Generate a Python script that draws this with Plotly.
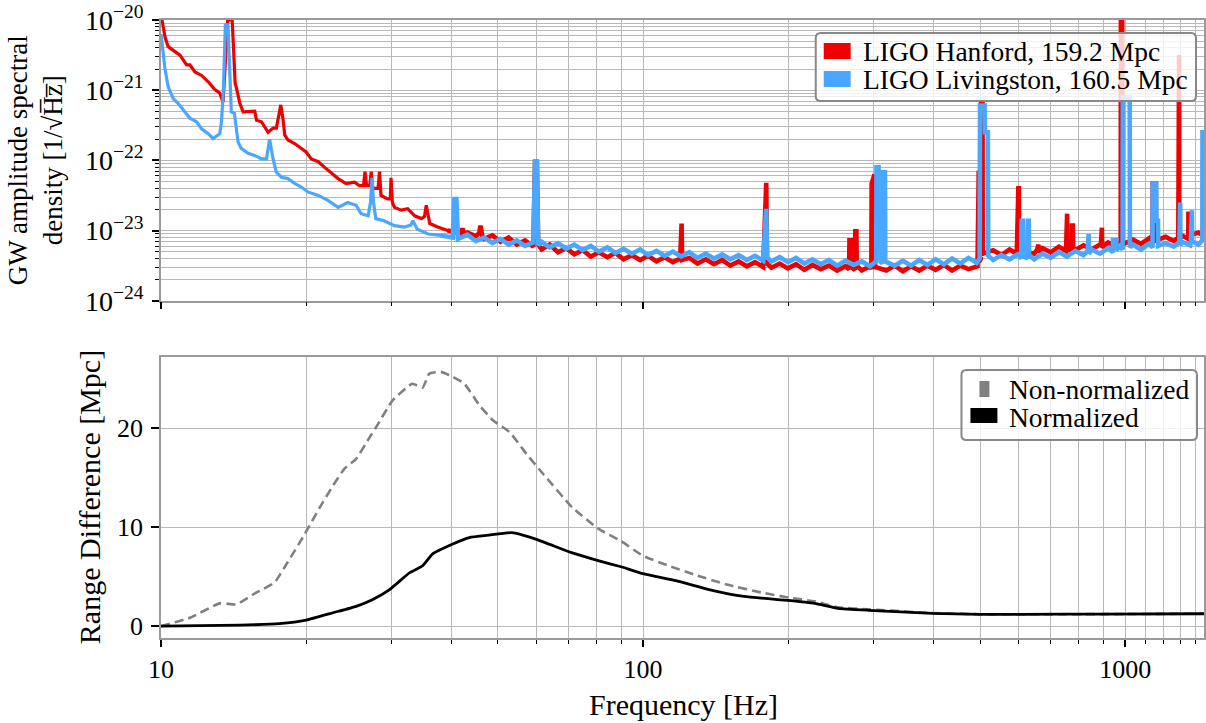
import plotly.graph_objects as go

# ---------------- top panel: amplitude spectral densities ----------------
# values (frequency in Hz, ASD stored as log10 of 1/sqrt(Hz))
h1_freq = [10.0, 10.06, 10.2, 10.35, 10.69, 10.95, 11.3, 11.48, 11.76, 12.14, 12.53, 12.93, 13.24, 13.45, 13.6,
           13.75, 14.05, 14.25, 14.34, 14.58, 14.8, 15.16, 15.65, 15.78, 16.16, 16.68, 17.08, 17.35, 17.55, 17.72,
           17.9, 18.06, 18.34, 18.93, 19.55, 20.0, 20.5, 21.2, 21.85, 22.6, 23.3, 24.2, 25.2, 25.8, 26.3, 26.5,
           26.7, 27.1, 27.3, 27.5, 28.2, 28.4, 28.6, 29.5, 29.9, 30.0, 30.2, 30.5, 31.5, 32.5, 33.6, 34.7, 35.2,
           35.5, 35.8, 36.1, 37.5, 39.3,
           41.0, 41.9, 42.2, 42.6, 43.2, 45.0, 45.7, 46.0, 46.4, 46.8, 48.7, 50.6, 52.6, 54.7, 56.9, 59.2, 59.7,
           60.2, 60.6, 61.6, 64.0, 66.6, 69.3, 72.0, 74.9, 77.9, 81.0, 84.3, 87.6, 91.1, 94.8, 98.6, 102.5, 106.6,
           110.9, 115.3, 119.4, 119.7, 120.2, 120.5, 124.7, 129.7, 134.9, 140.3, 145.9, 151.7, 157.8, 164.1, 170.7,
           177.5, 179.3, 180.1, 180.8, 184.6, 192.0, 199.7, 207.7, 216.0, 224.6, 233.6, 242.9, 252.7, 262.8, 267.5,
           268.0, 269.5, 270.0, 275.0, 275.6, 277.0, 277.5, 284.2, 295.6, 297.5, 298.0, 302.0, 303.0, 319.7, 332.5,
           345.8, 359.6, 374.0, 389.0, 404.5, 420.7, 437.5, 455.0, 473.2, 494.0, 494.5, 497.0, 497.5, 502.0, 502.5,
           506.0, 506.5, 532.4, 553.7, 575.8, 596.0, 596.5, 599.5, 600.4, 602.0, 602.5, 647.7, 657.0, 658.0, 661.0,
           662.0, 673.6, 700.6, 728.6, 754.0, 755.0, 758.0, 759.0, 775.0, 776.0, 779.0, 780.0, 788.1, 819.6, 852.4,
           891.0, 892.0, 895.0, 896.0, 921.9, 958.8, 979.0, 980.0, 986.0, 987.0, 1037.0, 1078.5, 1121.6, 1140.0,
           1141.0, 1158.0, 1159.0, 1213.1, 1261.6, 1289.0, 1290.0, 1294.0, 1295.0, 1312.1, 1352.0, 1353.0, 1357.0,
           1358.0, 1419.2, 1457.0]
h1_log_asd = [-19.95, -20.02, -20.25, -20.38, -20.45, -20.5, -20.64, -20.64, -20.74, -20.79, -20.88, -20.99, -21.04,
              -21.17, -20.6, -20.0, -20.0, -20.9, -20.97, -21.19, -21.31, -21.31, -21.3, -21.43, -21.45, -21.6,
              -21.54, -21.54, -21.35, -21.21, -21.4, -21.64, -21.71, -21.76, -21.83, -21.88, -21.98, -22.02, -22.1,
              -22.19, -22.26, -22.33, -22.31, -22.36, -22.36, -22.16, -22.36, -22.36, -22.16, -22.4, -22.4, -22.16,
              -22.5, -22.55, -22.55, -22.25, -22.6, -22.67, -22.71, -22.69, -22.79, -22.83, -22.8, -22.64, -22.8,
              -22.9, -22.95, -23.0,
              -23.02, -23.04, -22.97, -23.06, -23.03, -23.08, -23.04, -22.93, -23.08, -23.12, -23.07, -23.16, -23.10,
              -23.20, -23.14, -23.23, -22.02, -22.02, -23.20, -23.27, -23.20, -23.31, -23.25, -23.34, -23.28, -23.37,
              -23.31, -23.38, -23.32, -23.41, -23.35, -23.42, -23.36, -23.44, -23.38, -23.45, -23.40, -22.90, -22.90,
              -23.42, -23.39, -23.47, -23.41, -23.48, -23.42, -23.50, -23.44, -23.51, -23.45, -23.52, -22.32, -22.32,
              -23.47, -23.53, -23.47, -23.54, -23.48, -23.56, -23.49, -23.55, -23.50, -23.57, -23.51, -23.55, -23.14,
              -23.14, -23.52, -23.56, -23.01, -23.01, -23.50, -23.57, -23.51, -23.55, -22.33, -22.20, -23.52, -23.57,
              -23.50, -23.58, -23.51, -23.57, -23.50, -23.56, -23.49, -23.57, -23.50, -23.55, -23.51, -22.15, -22.15,
              -23.45, -23.40, -21.20, -21.20, -23.33, -23.28, -23.35, -23.27, -23.33, -22.60, -22.60, -22.40, -22.40,
              -23.28, -23.33, -23.27, -23.20, -23.20, -23.31, -23.25, -23.31, -23.23, -23.29, -22.76, -22.76, -23.26,
              -23.30, -22.93, -22.93, -23.24, -23.28, -23.21, -23.27, -23.19, -22.96, -22.96, -23.24, -23.17, -23.23,
              -23.16, -19.90, -19.90, -23.20, -23.13, -23.19, -23.11, -23.18, -22.33, -22.33, -23.14, -23.09, -23.15,
              -23.10, -20.50, -20.50, -23.13, -23.07, -23.12, -22.76, -22.76, -23.07, -23.03, -23.08]

l1_freq = [10.0, 10.1, 10.19, 10.35, 10.6, 10.86, 11.2, 11.48, 11.85, 12.14, 12.53, 12.83, 13.24, 13.35, 13.47,
           13.6, 13.77, 13.9, 13.99, 14.2, 14.45, 14.67, 15.16, 15.65, 16.16, 16.55, 16.8, 17.08, 17.35, 17.78,
           18.34, 18.93, 19.55, 20.17, 21.2, 22.2, 23.3, 24.4, 25.4, 26.0, 26.9, 27.2, 27.4, 27.6, 27.9, 29.0,
           30.5, 32.0, 33.0, 33.3, 33.6, 34.0, 35.8, 38.1, 40.3, 40.6, 41.0, 41.3,
           43.2, 45.0, 46.8, 48.7, 50.6, 52.6, 54.7, 56.9, 59.2, 59.7, 60.2, 60.6, 61.6, 64.0, 66.6, 69.3, 72.0,
           74.9, 77.9, 81.0, 84.3, 87.6, 91.1, 94.8, 98.6, 102.5, 106.6, 110.9, 115.3, 119.9, 124.7, 129.7, 134.9,
           140.3, 145.9, 151.7, 157.8, 164.1, 170.7, 177.5, 179.3, 180.1, 180.8, 184.6, 192.0, 199.7, 207.7, 216.0,
           224.6, 233.6, 242.9, 252.7, 262.8, 273.3, 284.2, 295.6, 304.5, 305.0, 308.0, 308.5, 311.0, 311.5, 313.5,
           314.0, 317.5, 318.0, 332.5, 345.8, 359.6, 374.0, 389.0, 404.5, 420.7, 437.5, 455.0, 473.2, 492.2, 499.0,
           500.0, 511.0, 512.0, 519.0, 520.0, 532.4, 553.7, 575.8, 598.9, 609.0, 610.0, 613.0, 614.0, 627.0, 628.0,
           631.0, 632.0, 647.7, 673.6, 700.6, 728.6, 757.7, 788.1, 819.6, 836.0, 837.0, 840.0, 841.0, 852.4, 886.5,
           921.9, 943.0, 944.0, 958.0, 959.0, 975.0, 988.0, 989.0, 1022.0, 1023.0, 1037.0, 1078.5, 1121.6, 1140.0,
           1141.0, 1160.0, 1161.0, 1170.0, 1171.0, 1213.1, 1261.6, 1296.0, 1297.0, 1301.0, 1302.0, 1312.1, 1364.6,
           1369.0, 1370.0, 1376.0, 1377.0, 1419.2, 1446.0, 1447.0, 1457.0]
l1_log_asd = [-20.2, -20.45, -20.69, -20.95, -21.12, -21.19, -21.31, -21.4, -21.45, -21.55, -21.62, -21.69, -21.62,
              -21.45, -21.0, -20.07, -20.07, -20.8, -21.31, -21.33, -21.74, -21.83, -21.9, -21.93, -21.98, -21.98,
              -21.7, -21.98, -22.17, -22.24, -22.26, -22.33, -22.38, -22.45, -22.5, -22.57, -22.67, -22.6, -22.64,
              -22.76, -22.79, -22.6, -22.25, -22.6, -22.83, -22.86, -22.93, -22.95, -22.92, -22.86, -22.92, -22.98,
              -23.05, -23.07, -23.10, -22.55, -22.55, -23.12,
              -23.06, -23.15, -23.10, -23.18, -23.12, -23.20, -23.14, -23.22, -23.17, -22.02, -22.02, -23.21, -23.16,
              -23.24, -23.18, -23.26, -23.20, -23.28, -23.22, -23.30, -23.24, -23.32, -23.26, -23.33, -23.27, -23.35,
              -23.29, -23.36, -23.30, -23.37, -23.31, -23.39, -23.33, -23.40, -23.34, -23.41, -23.35, -23.42, -23.36,
              -23.43, -22.69, -22.69, -23.38, -23.44, -23.38, -23.45, -23.39, -23.47, -23.41, -23.48, -23.42, -23.50,
              -23.43, -23.49, -23.44, -23.51, -23.44, -22.10, -22.10, -22.50, -22.50, -23.45, -23.47, -22.17, -22.17,
              -23.44, -23.50, -23.43, -23.50, -23.42, -23.49, -23.41, -23.48, -23.40, -23.47, -23.39, -23.46, -23.40,
              -21.22, -21.22, -21.60, -21.60, -23.36, -23.42, -23.35, -23.41, -23.34, -23.40, -22.86, -22.86, -23.36,
              -23.40, -22.86, -22.86, -23.35, -23.41, -23.33, -23.39, -23.31, -23.37, -23.29, -23.35, -23.29, -23.05,
              -23.05, -23.33, -23.27, -23.33, -23.25, -23.31, -23.14, -23.14, -23.28, -23.22, -23.27, -21.10, -21.10,
              -23.24, -23.20, -23.27, -23.19, -23.24, -22.33, -22.33, -22.86, -22.86, -23.22, -23.18, -23.23, -23.17,
              -22.60, -22.60, -23.21, -23.16, -23.21, -23.17, -22.71, -22.71, -23.15, -23.20, -23.14, -21.60, -21.60]

h1_label = "LIGO Hanford, 159.2 Mpc"
l1_label = "LIGO Livingston, 160.5 Mpc"

# ---------------- bottom panel: range difference ----------------
nonnorm_freq = [10.0, 11.48, 13.24, 14.34, 15.78, 17.2, 18.2, 19.87, 21.35, 22.74, 24.0, 25.4, 27.1, 28.1, 30.2,
                33.2, 34.9, 36.0, 38.1, 40.3, 42.6, 45.8, 48.8, 52.9, 57.3, 62.0, 71.3, 81.0, 90.0, 100.0, 113.0,
                128.0, 149.0, 176.0, 200.0, 227.0, 254.0, 294.0, 400.0, 500.0, 700.0, 1000.0, 1457.0]
nonnorm_diff = [0.0, 0.84, 2.3, 2.2, 3.4, 4.4, 6.25, 9.3, 12.0, 14.2, 15.9, 16.9, 19.1, 20.3, 22.8, 24.5, 24.1,
                25.5, 25.7, 25.2, 24.5, 22.3, 20.8, 19.6, 17.4, 15.4, 12.0, 9.8, 8.6, 7.1, 6.1, 5.2, 4.2, 3.4, 2.9,
                2.5, 1.9, 1.7, 1.32, 1.2, 1.2, 1.22, 1.26]
norm_freq = [10.0, 14.57, 17.6, 20.0, 22.74, 25.4, 27.5, 29.8, 32.8, 34.9, 36.6, 40.3, 43.6, 47.9, 53.4, 59.9,
             71.3, 81.0, 90.0, 100.0, 117.0, 137.0, 162.0, 200.0, 227.0, 254.0, 294.0, 398.0, 500.0, 612.0, 889.0,
             1457.0]
norm_diff = [0.0, 0.1, 0.25, 0.6, 1.35, 2.0, 2.7, 3.7, 5.4, 6.1, 7.3, 8.3, 8.95, 9.2, 9.45, 8.8, 7.4, 6.6, 6.0,
             5.3, 4.6, 3.7, 3.0, 2.6, 2.3, 1.8, 1.6, 1.29, 1.19, 1.19, 1.22, 1.25]
nonnorm_label = "Non-normalized"
norm_label = "Normalized"

x_major = [10, 100, 1000]
x_major_text = ["10", "100", "1000"]
x_minor = [m * d for d in (10, 100) for m in range(2, 10)] + [1100, 1200, 1300, 1400]
y_top_major = [1e-24, 1e-23, 1e-22, 1e-21, 1e-20]
y_top_text = ["10<sup>−24</sup>", "10<sup>−23</sup>", "10<sup>−22</sup>", "10<sup>−21</sup>", "10<sup>−20</sup>"]
y_top_minor = [m * 10.0 ** e for e in range(-24, -20) for m in range(2, 10)]
y_bot_major = [0, 10, 20]

# ---------------- styling ----------------
RED = "#ee0000"
BLUE = "#4ba6ff"
GRID = "#b8b8b8"
SPINE = "#9a9a9a"
FONT = "Liberation Serif"
W, H = 1206, 723
L_PX, R_PX, T_PX, B_PX = 161, 1206, 20, 638
NOISY_FROM = 40.0  # Hz; the noisy part of each ASD is drawn with a heavier stroke


def pxx(x):
    return (x - L_PX) / (R_PX - L_PX)


def pxy(y):
    return (B_PX - y) / (B_PX - T_PX)


def split(freq, logv):
    asd = [10 ** v for v in logv]
    pts = list(zip(freq, asd))
    k = next(i for i, p in enumerate(pts) if p[0] >= NOISY_FROM)
    lo = pts[:k + 1]
    hi = pts[k - 1:]
    return lo, hi


fig = go.Figure()
for freq, logv, color, label in ((h1_freq, h1_log_asd, RED, h1_label), (l1_freq, l1_log_asd, BLUE, l1_label)):
    lo, hi = split(freq, logv)
    fig.add_trace(go.Scatter(x=[p[0] for p in lo], y=[p[1] for p in lo], mode="lines", name=label,
                             line=dict(color=color, width=3.2), xaxis="x", yaxis="y", showlegend=False))
    fig.add_trace(go.Scatter(x=[p[0] for p in hi], y=[p[1] for p in hi], mode="lines", name=label,
                             line=dict(color=color, width=4.6), xaxis="x", yaxis="y", showlegend=False))

fig.add_trace(go.Scatter(x=nonnorm_freq, y=nonnorm_diff, mode="lines", name=nonnorm_label,
                         line=dict(color="#808080", width=2.6, dash="9px,5px", shape="spline", smoothing=0.4),
                         xaxis="x2", yaxis="y2", showlegend=False))
fig.add_trace(go.Scatter(x=norm_freq, y=norm_diff, mode="lines", name=norm_label,
                         line=dict(color="black", width=2.8, shape="spline", smoothing=0.4),
                         xaxis="x2", yaxis="y2", showlegend=False))

tick_font = dict(family=FONT, size=26, color="black")
xaxis_common = dict(
    type="log", range=[1, 3.1636], showline=True, linecolor=SPINE, linewidth=1.5, mirror=True,
    showgrid=True, gridcolor=GRID, gridwidth=1.2, zeroline=False,
    tickmode="array", tickvals=x_major, ticktext=x_major_text, ticks="outside", ticklen=7, tickwidth=1.8,
    tickcolor="black", tickfont=tick_font,
    minor=dict(tickmode="array", tickvals=x_minor, ticks="outside", ticklen=4, tickwidth=1.3,
               tickcolor="black", showgrid=True, gridcolor=GRID, gridwidth=1.2),
)

fig.update_layout(
    width=W, height=H, paper_bgcolor="white", plot_bgcolor="white",
    margin=dict(l=L_PX, r=W - R_PX, t=T_PX, b=H - B_PX),
    font=dict(family=FONT, color="black"),
    showlegend=False,
    xaxis=dict(xaxis_common, anchor="y", showticklabels=False),
    xaxis2=dict(xaxis_common, anchor="y2", showticklabels=True, ticklabelstandoff=0),
    yaxis=dict(
        type="log", range=[-24, -20], domain=[pxy(300.7), 1.0], showline=True, linecolor=SPINE, linewidth=1.5,
        mirror=True, showgrid=True, gridcolor=GRID, gridwidth=1.2, zeroline=False,
        tickmode="array", tickvals=y_top_major, ticktext=y_top_text, ticks="outside", ticklen=7, tickwidth=1.8,
        tickcolor="black", tickfont=dict(family=FONT, size=28, color="black"), ticklabelstandoff=3,
        minor=dict(tickmode="array", tickvals=y_top_minor, ticks="outside", ticklen=4, tickwidth=1.3,
                   tickcolor="black", showgrid=True, gridcolor=GRID, gridwidth=1.2),
    ),
    yaxis2=dict(
        range=[-1.2, 27.2], domain=[0, pxy(357)], showline=True, linecolor=SPINE, linewidth=1.5, mirror=True,
        showgrid=True, gridcolor=GRID, gridwidth=1.2, zeroline=False,
        tickmode="array", tickvals=y_bot_major, ticks="outside", ticklen=8, tickwidth=1.8,
        tickcolor="black", tickfont=tick_font, ticklabelstandoff=3,
    ),
)


def rounded_box(x0, y0, x1, y1, r):
    def P(x, y):
        return f"{pxx(x):.5f},{pxy(y):.5f}"
    path = (f"M{P(x0 + r, y0)} L{P(x1 - r, y0)} Q{P(x1, y0)} {P(x1, y0 + r)} "
            f"L{P(x1, y1 - r)} Q{P(x1, y1)} {P(x1 - r, y1)} "
            f"L{P(x0 + r, y1)} Q{P(x0, y1)} {P(x0, y1 - r)} "
            f"L{P(x0, y0 + r)} Q{P(x0, y0)} {P(x0 + r, y0)} Z")
    return path


def prect(x0, y0, x1, y1, color):
    return dict(type="rect", xref="paper", yref="paper", x0=pxx(x0), x1=pxx(x1), y0=pxy(y1), y1=pxy(y0),
                fillcolor=color, line=dict(width=0), layer="above")


shapes = [
    dict(type="path", xref="paper", yref="paper", path=rounded_box(817, 33, 1198, 101, 5),
         fillcolor="rgba(255,255,255,0.8)", line=dict(color="#888888", width=2), layer="above"),
    prect(825, 43, 852, 59, RED),
    prect(825, 71, 852, 87, BLUE),
    dict(type="path", xref="paper", yref="paper", path=rounded_box(963, 370, 1199, 440, 5),
         fillcolor="rgba(255,255,255,0.8)", line=dict(color="#888888", width=2), layer="above"),
    prect(981, 381, 991, 397, "#808080"),
    prect(972, 408, 999, 423, "black"),
]

leg_font = dict(family=FONT, size=27.5, color="black")
annotations = [
    dict(text=h1_label, x=pxx(862), y=pxy(51), xref="paper", yref="paper", xanchor="left", yanchor="middle",
         showarrow=False, font=leg_font),
    dict(text=l1_label, x=pxx(862), y=pxy(79), xref="paper", yref="paper", xanchor="left", yanchor="middle",
         showarrow=False, font=leg_font),
    dict(text=nonnorm_label, x=pxx(1009), y=pxy(389), xref="paper", yref="paper", xanchor="left",
         yanchor="middle", showarrow=False, font=leg_font),
    dict(text=norm_label, x=pxx(1009), y=pxy(417), xref="paper", yref="paper", xanchor="left",
         yanchor="middle", showarrow=False, font=leg_font),
    dict(text="Frequency [Hz]", x=pxx(685), y=pxy(704), xref="paper", yref="paper", xanchor="center",
         yanchor="middle", showarrow=False, font=dict(family=FONT, size=30, color="black")),
    dict(text="Range Difference [Mpc]", x=pxx(89), y=pxy(497), xref="paper", yref="paper", xanchor="center",
         yanchor="middle", textangle=-90, showarrow=False, font=dict(family=FONT, size=30, color="black")),
    dict(text="GW amplitude spectral<br>density [1/√H\u0305z\u0305]",
         x=pxx(36), y=pxy(160), xref="paper", yref="paper", xanchor="center", yanchor="middle",
         textangle=-90, showarrow=False, font=dict(family=FONT, size=27, color="black")),
]

fig.update_layout(shapes=shapes, annotations=annotations)
fig.write_html("out.html")
